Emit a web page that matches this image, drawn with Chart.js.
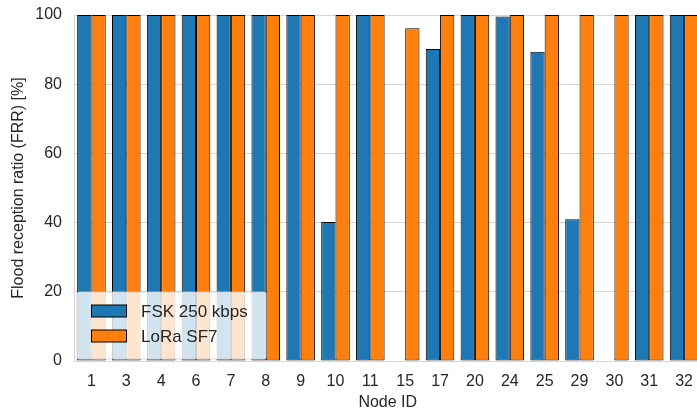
<!DOCTYPE html>
<html>
<head>
<meta charset="utf-8">
<script src="https://cdn.jsdelivr.net/npm/chart.js@4/dist/chart.umd.min.js"></script>
<style>
  html, body { margin: 0; padding: 0; background: #fff; overflow: hidden; }
  #wrap { width: 704px; height: 412px; }
</style>
</head>
<body>
<div id="wrap"><canvas id="chart"></canvas></div>
<script>
// data
const nodeIds = ['1', '3', '4', '6', '7', '8', '9', '10', '11', '15', '17', '20', '24', '25', '29', '30', '31', '32'];
const fskValues = [100, 100, 100, 100, 100, 100, 100, 40.2, 100, 0, 90.2, 100, 99.6, 89.4, 41, 0, 100, 100];
const loraValues = [100, 100, 100, 100, 100, 100, 100, 100, 100, 96.2, 100, 100, 100, 100, 100, 100, 100, 100];
const yTicks = [0, 20, 40, 60, 80, 100];

const FONT = '"Liberation Sans", Arial, sans-serif';
const textColor = '#262626';
const gridColor = '#d6d6d6';

// legend inside the plot, lower left (matplotlib style)
const innerLegend = {
  id: 'innerLegend',
  afterDraw(chart) {
    const { ctx, chartArea } = chart;
    const x = chartArea.left + 3;
    const y = chartArea.bottom - 69;
    const w = 189;
    const h = 67;
    ctx.save();
    ctx.beginPath();
    ctx.roundRect(x, y, w, h, 2);
    ctx.fillStyle = 'rgba(255,255,255,0.8)';
    ctx.fill();
    ctx.strokeStyle = 'rgba(204,204,204,0.8)';
    ctx.lineWidth = 1;
    ctx.stroke();

    ctx.font = '17px ' + FONT;
    ctx.textBaseline = 'middle';
    ctx.textAlign = 'left';
    chart.data.datasets.forEach((ds, i) => {
      const cy = y + 19 + i * 25;
      ctx.fillStyle = ds.backgroundColor;
      ctx.fillRect(x + 14.5, cy - 6, 35, 12);
      ctx.strokeStyle = '#000';
      ctx.strokeRect(x + 14.5, cy - 6, 35, 12);
      ctx.fillStyle = textColor;
      ctx.fillText(ds.label, x + 64, cy + 1);
    });
    ctx.restore();
  },
};

new Chart(document.getElementById('chart'), {
  type: 'bar',
  data: {
    labels: nodeIds,
    datasets: [
      {
        label: 'FSK 250 kbps',
        data: fskValues,
        backgroundColor: '#1f77b4',
        borderColor: '#000',
        borderWidth: 1,
        borderSkipped: false,
        categoryPercentage: 0.82,
        barPercentage: 1,
      },
      {
        label: 'LoRa SF7',
        data: loraValues,
        backgroundColor: '#ff7f0e',
        borderColor: '#000',
        borderWidth: 1,
        borderSkipped: false,
        categoryPercentage: 0.82,
        barPercentage: 1,
      },
    ],
  },
  options: {
    responsive: true,
    maintainAspectRatio: false,
    animation: false,
    layout: { padding: { top: 15, right: 0, left: 0, bottom: 0 } },
    scales: {
      x: {
        type: 'category',
        offset: true,
        grid: { display: false, drawTicks: false },
        border: { display: true, color: gridColor, width: 1 },
        ticks: {
          color: textColor,
          font: { family: FONT, size: 16 },
          padding: 11,
          maxRotation: 0,
          autoSkip: false,
        },
        title: {
          display: true,
          text: 'Node ID',
          color: textColor,
          font: { family: FONT, size: 16 },
          padding: { top: 3, bottom: 0 },
        },
        afterFit(scale) { scale.height = 51; },
      },
      y: {
        min: 0,
        max: 100,
        afterBuildTicks(scale) { scale.ticks = yTicks.map((v) => ({ value: v })); },
        grid: { color: gridColor, lineWidth: 1, drawTicks: false },
        border: { display: true, color: gridColor, width: 1 },
        ticks: {
          color: textColor,
          font: { family: FONT, size: 16 },
          padding: 12,
        },
        title: {
          display: true,
          text: 'Flood reception ratio (FRR) [%]',
          color: textColor,
          font: { family: FONT, size: 16 },
          padding: { top: 9, bottom: 4 },
        },
        afterFit(scale) {
          scale.width = 74;
          scale.paddingTop = 0;
          scale.paddingBottom = 0;
        },
      },
    },
    plugins: {
      legend: { display: false },
      tooltip: { enabled: false },
    },
  },
  plugins: [innerLegend],
});
</script>
</body>
</html>
